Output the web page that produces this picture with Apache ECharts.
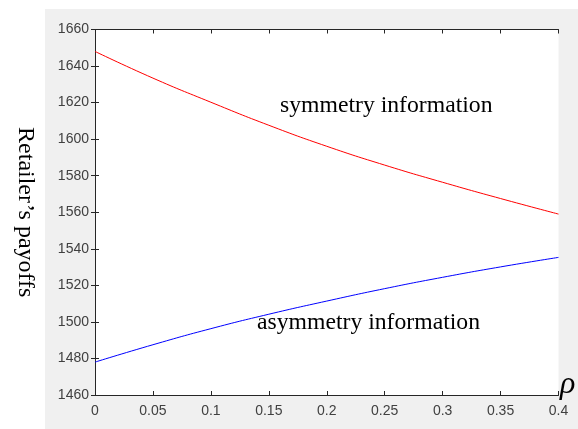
<!DOCTYPE html>
<html>
<head>
<meta charset="utf-8">
<script src="https://cdn.jsdelivr.net/npm/echarts@6/dist/echarts.min.js"></script>
<style>html,body{margin:0;padding:0;background:#fff;}#c{width:578px;height:429px;}</style>
</head>
<body>
<div id="c"></div>
<script>
var rho = [0, 0.05, 0.1, 0.15, 0.2, 0.25, 0.3, 0.35, 0.4];
var symmetric = [1648, 1633.4, 1620.2, 1607.6, 1596.1, 1585.8, 1576.4, 1567.5, 1559];
var asymmetric = [1478, 1487.5, 1496.3, 1504.2, 1511.4, 1518.2, 1524.4, 1530.1, 1535.3];
var yTicks = [1460, 1660, 20];
var xTicks = [0, 0.4, 0.05];
var yName = 'Retailer\u2019s payoffs';
var symLabel = 'symmetry information';
var asymLabel = 'asymmetry information';

function pairs(xs, ys){ return xs.map(function(x,i){ return [x, ys[i]]; }); }
var chart = echarts.init(document.getElementById('c'), null, {renderer:'canvas'});
var axisLine = {show:true, lineStyle:{color:'#262626', width:1}};
var axisTick = {show:true, inside:true, length:4, lineStyle:{color:'#262626', width:1}};
var lab = {color:'#404040', fontFamily:'Liberation Sans, Arial', fontSize:14};
chart.setOption({
  animation:false,
  backgroundColor:'#fff',
  graphic:[
    {type:'rect', z:-10, shape:{x:45, y:9, width:533, height:420}, style:{fill:'#f0f0f0'}},
    {type:'text', left:560, top:369, style:{text:'\u03c1', font:'italic 32px "Liberation Serif", "Times New Roman", serif', fill:'#000'}},
    {type:'text', left:280, top:94, style:{text:symLabel, font:'23.7px "Liberation Serif", "Times New Roman", serif', fill:'#000'}},
    {type:'text', left:257, top:311, style:{text:asymLabel, font:'23.7px "Liberation Serif", "Times New Roman", serif', fill:'#000'}}
  ],
  grid:{left:95, right:19.5, top:29.5, bottom:34, show:true, backgroundColor:'#fff', borderWidth:0},
  xAxis:[
    {type:'value', min:xTicks[0], max:xTicks[1], interval:xTicks[2], position:'bottom',
     axisLine:axisLine, axisTick:axisTick, splitLine:{show:false},
     axisLabel:Object.assign({margin:9, formatter:function(v){return String(+v.toFixed(2));}}, lab)},
    {type:'value', min:xTicks[0], max:xTicks[1], interval:xTicks[2], position:'top',
     axisLine:axisLine, axisTick:axisTick, splitLine:{show:false}, axisLabel:{show:false}}
  ],
  yAxis:[
    {type:'value', min:yTicks[0], max:yTicks[1], interval:yTicks[2], position:'left',
     axisLine:axisLine, axisTick:axisTick, splitLine:{show:false},
     axisLabel:Object.assign({margin:6, formatter:function(v){return String(v);}}, lab),
     name:yName, nameLocation:'middle', nameRotate:-90, nameGap:58,
     nameTextStyle:{fontFamily:'Liberation Serif, Times New Roman, serif', fontSize:24, color:'#000'}},
    {type:'value', min:yTicks[0], max:yTicks[1], interval:yTicks[2], position:'right',
     axisLine:axisLine, axisTick:axisTick, splitLine:{show:false}, axisLabel:{show:false}}
  ],
  series:[
    {type:'line', data:pairs(rho, symmetric), smooth:true, showSymbol:false, lineStyle:{color:'#ff0000', width:1}, color:'#ff0000'},
    {type:'line', data:pairs(rho, asymmetric), smooth:true, showSymbol:false, lineStyle:{color:'#0000ff', width:1}, color:'#0000ff'}
  ]
});
</script>
</body>
</html>
